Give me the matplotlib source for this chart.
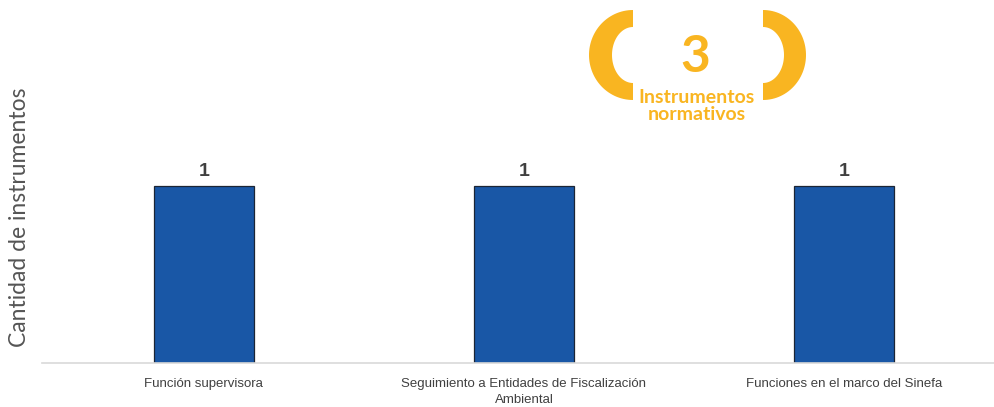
import numpy as np
import matplotlib.pyplot as plt
from matplotlib.path import Path
from matplotlib.patches import PathPatch

categorias = ["Función supervisora",
              "Seguimiento a Entidades de Fiscalización\nAmbiental",
              "Funciones en el marco del Sinefa"]
valores = [1, 1, 1]
total = 3

azul = "#1957A6"
amarillo = "#F9B521"
gris = "#404040"

fig = plt.figure(figsize=(9.95, 4.07), dpi=100)
ax = fig.add_axes([42/995, 44/407, 953/995, 363/407])
x = np.arange(len(categorias))
bars = ax.bar(x, valores, width=100/320, color=azul, edgecolor="#1b2535", linewidth=0.9)
ax.set_xlim(-0.506, 2.472)
ax.set_ylim(0, 363/177)
for b, v in zip(bars, valores):
    ax.text(b.get_x() + b.get_width()/2, v + 0.035, str(v), ha="center", va="bottom",
            fontsize=14, fontweight="bold", color=gris, family="Liberation Sans")
ax.set_xticks(x)
ax.set_xticklabels(categorias, fontsize=9.5, color=gris, family="Liberation Sans", linespacing=1.45)
ax.tick_params(axis="x", length=0, pad=11)
ax.set_yticks([])
for s in ["top", "right", "left"]:
    ax.spines[s].set_visible(False)
ax.spines["bottom"].set_color("#d9d9d9")
ax.spines["bottom"].set_linewidth(1.2)

fig.text(20/995, 1 - 217/407, "Cantidad de instrumentos", rotation=90, ha="center", va="center",
         fontsize=16.5, color="#555555", family="Lato")

# badge drawn in pixel coordinates
ov = fig.add_axes([0, 0, 1, 1], zorder=5)
ov.set_xlim(0, 995)
ov.set_ylim(407, 0)
ov.axis("off")

def medio_anillo(cx, cy, ro_x, ro_y, ri_x, ri_y, lado):
    t = np.linspace(np.pi/2, 3*np.pi/2, 60)
    s = 1 if lado == "izq" else -1
    xo = cx + s*ro_x*np.cos(t)
    yo = cy - ro_y*np.sin(t)
    xi = cx + s*ri_x*np.cos(t[::-1])
    yi = cy - ri_y*np.sin(t[::-1])
    verts = np.concatenate([np.c_[xo, yo], np.c_[xi, yi], [[xo[0], yo[0]]]])
    codes = [Path.MOVETO] + [Path.LINETO]*(len(verts) - 2) + [Path.CLOSEPOLY]
    return PathPatch(Path(verts, codes), facecolor=amarillo, edgecolor="none")

ov.add_patch(medio_anillo(633, 55, 44, 45, 21, 28, "izq"))
ov.add_patch(medio_anillo(763, 55, 43, 45, 21, 28, "der"))
ov.text(695, 57, str(total), ha="center", va="center", fontsize=37, fontweight="bold",
        color=amarillo, family="Lato")
ov.text(697, 106, "Instrumentos\nnormativos", ha="center", va="center", fontsize=14,
        fontweight="bold", color=amarillo, family="Lato", linespacing=1.05)

fig.savefig("out.png", dpi=100)
